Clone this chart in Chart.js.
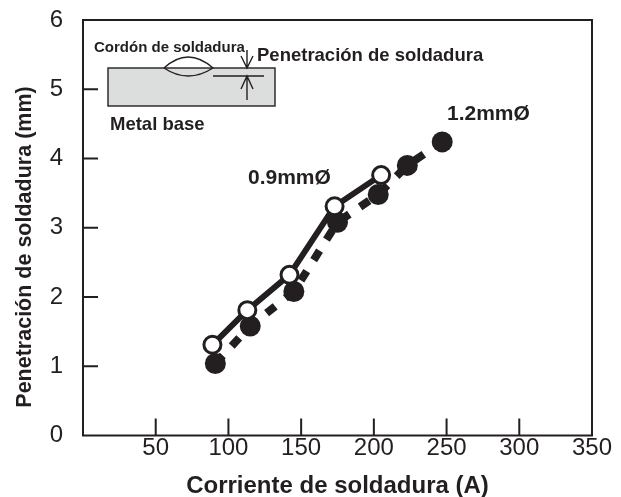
<!DOCTYPE html>
<html>
<head>
<meta charset="utf-8">
<script src="https://cdn.jsdelivr.net/npm/chart.js@4"></script>
<style>
  html, body { margin: 0; background: #fff; }
  #wrap { width: 621px; height: 497px; }
</style>
</head>
<body>
<div id="wrap"><canvas id="c"></canvas></div>
<script>
const corriente09 = [89, 113, 142, 173, 205];
const penetracion09 = [1.31, 1.81, 2.32, 3.31, 3.76];
const corriente12 = [91, 115, 145, 175, 203, 223, 247];
const penetracion12 = [1.04, 1.58, 2.08, 3.08, 3.48, 3.9, 4.24];
const xTicks = [50, 100, 150, 200, 250, 300, 350];
const yTicks = [0, 1, 2, 3, 4, 5, 6];

const INK = "#231f20";
const font = "Liberation Sans";

const toPts = (xs, ys) => xs.map((x, i) => ({ x, y: ys[i] }));

// frame, inward ticks, y title, series labels and the small weld sketch
const decor = {
  id: "decor",
  afterDatasetsDraw(chart) {
    const { ctx, chartArea: a, scales: { x, y } } = chart;
    ctx.save();
    ctx.strokeStyle = INK;
    ctx.fillStyle = INK;
    ctx.lineWidth = 2;
    ctx.strokeRect(a.left, a.top, a.right - a.left, a.bottom - a.top);
    ctx.beginPath();
    xTicks.slice(0, -1).forEach((v) => {
      ctx.moveTo(x.getPixelForValue(v), a.bottom);
      ctx.lineTo(x.getPixelForValue(v), a.bottom - 17);
    });
    yTicks.slice(1, -1).forEach((v) => {
      ctx.moveTo(a.left, y.getPixelForValue(v));
      ctx.lineTo(a.left + 15, y.getPixelForValue(v));
    });
    ctx.stroke();

    ctx.font = `bold 21px "${font}"`;
    ctx.fillText("0.9mmØ", 248, 184);
    ctx.fillText("1.2mmØ", 447, 120);

    ctx.save();
    ctx.translate(25, 247);
    ctx.rotate(-Math.PI / 2);
    ctx.font = `bold 21.5px "${font}"`;
    ctx.textAlign = "center";
    ctx.textBaseline = "middle";
    ctx.fillText("Penetración de soldadura (mm)", 0, 0);
    ctx.restore();

    // weld sketch
    ctx.fillStyle = "#dcdddd";
    ctx.fillRect(108, 68, 167, 38);
    ctx.lineWidth = 1.4;
    ctx.strokeRect(108, 68, 167, 38);
    ctx.beginPath();
    ctx.moveTo(164, 68);
    ctx.quadraticCurveTo(188, 46, 213, 68);
    ctx.quadraticCurveTo(188, 84, 164, 68);
    ctx.moveTo(213, 76);
    ctx.lineTo(264, 76);
    ctx.moveTo(247, 50);
    ctx.lineTo(247, 68);
    ctx.moveTo(241, 56);
    ctx.lineTo(247, 68);
    ctx.lineTo(253, 56);
    ctx.moveTo(247, 100);
    ctx.lineTo(247, 76);
    ctx.moveTo(241, 89);
    ctx.lineTo(247, 76);
    ctx.lineTo(253, 89);
    ctx.stroke();

    ctx.fillStyle = INK;
    ctx.font = `bold 15px "${font}"`;
    ctx.fillText("Cordón de soldadura", 94, 52);
    ctx.font = `bold 18.5px "${font}"`;
    ctx.fillText("Penetración de soldadura", 257, 61);
    ctx.fillText("Metal base", 110, 130);
    ctx.restore();
  },
};

new Chart(document.getElementById("c"), {
  type: "scatter",
  plugins: [decor],
  data: {
    datasets: [
      {
        label: "1.2mmØ",
        data: toPts(corriente12, penetracion12),
        showLine: true,
        borderColor: INK,
        borderWidth: 8,
        borderDash: [11, 13],
        pointBackgroundColor: INK,
        pointBorderColor: INK,
        pointBorderWidth: 0,
        pointRadius: 10.5,
        order: 2,
      },
      {
        label: "0.9mmØ",
        data: toPts(corriente09, penetracion09),
        showLine: true,
        borderColor: INK,
        borderWidth: 6,
        pointBackgroundColor: "#fff",
        pointBorderColor: INK,
        pointBorderWidth: 3,
        pointRadius: 8.5,
        order: 1,
      },
    ],
  },
  options: {
    responsive: true,
    maintainAspectRatio: false,
    animation: false,
    layout: { padding: { top: 20, right: 29, left: 0, bottom: 0 } },
    plugins: { legend: { display: false }, tooltip: { enabled: false } },
    scales: {
      x: {
        type: "linear",
        min: 0,
        max: 350,
        afterFit: (s) => { s.height = 61.5; s.paddingLeft = 0; s.paddingRight = 0; },
        afterBuildTicks: (s) => { s.ticks = xTicks.map((value) => ({ value })); },
        grid: { display: false },
        border: { display: false },
        ticks: { color: INK, font: { family: font, size: 24 }, padding: -10, maxRotation: 0, autoSkip: false },
        title: { display: true, text: "Corriente de soldadura (A)", color: INK, font: { family: font, size: 24, weight: "bold" }, padding: { top: 0, bottom: -4 } },
      },
      y: {
        type: "linear",
        min: 0,
        max: 6,
        afterFit: (s) => { s.width = 83; s.paddingTop = 0; s.paddingBottom = 0; },
        afterBuildTicks: (s) => { s.ticks = yTicks.map((value) => ({ value })); },
        grid: { display: false },
        border: { display: false },
        ticks: { color: INK, font: { family: font, size: 24 }, padding: 12 },
      },
    },
  },
});
</script>
</body>
</html>
